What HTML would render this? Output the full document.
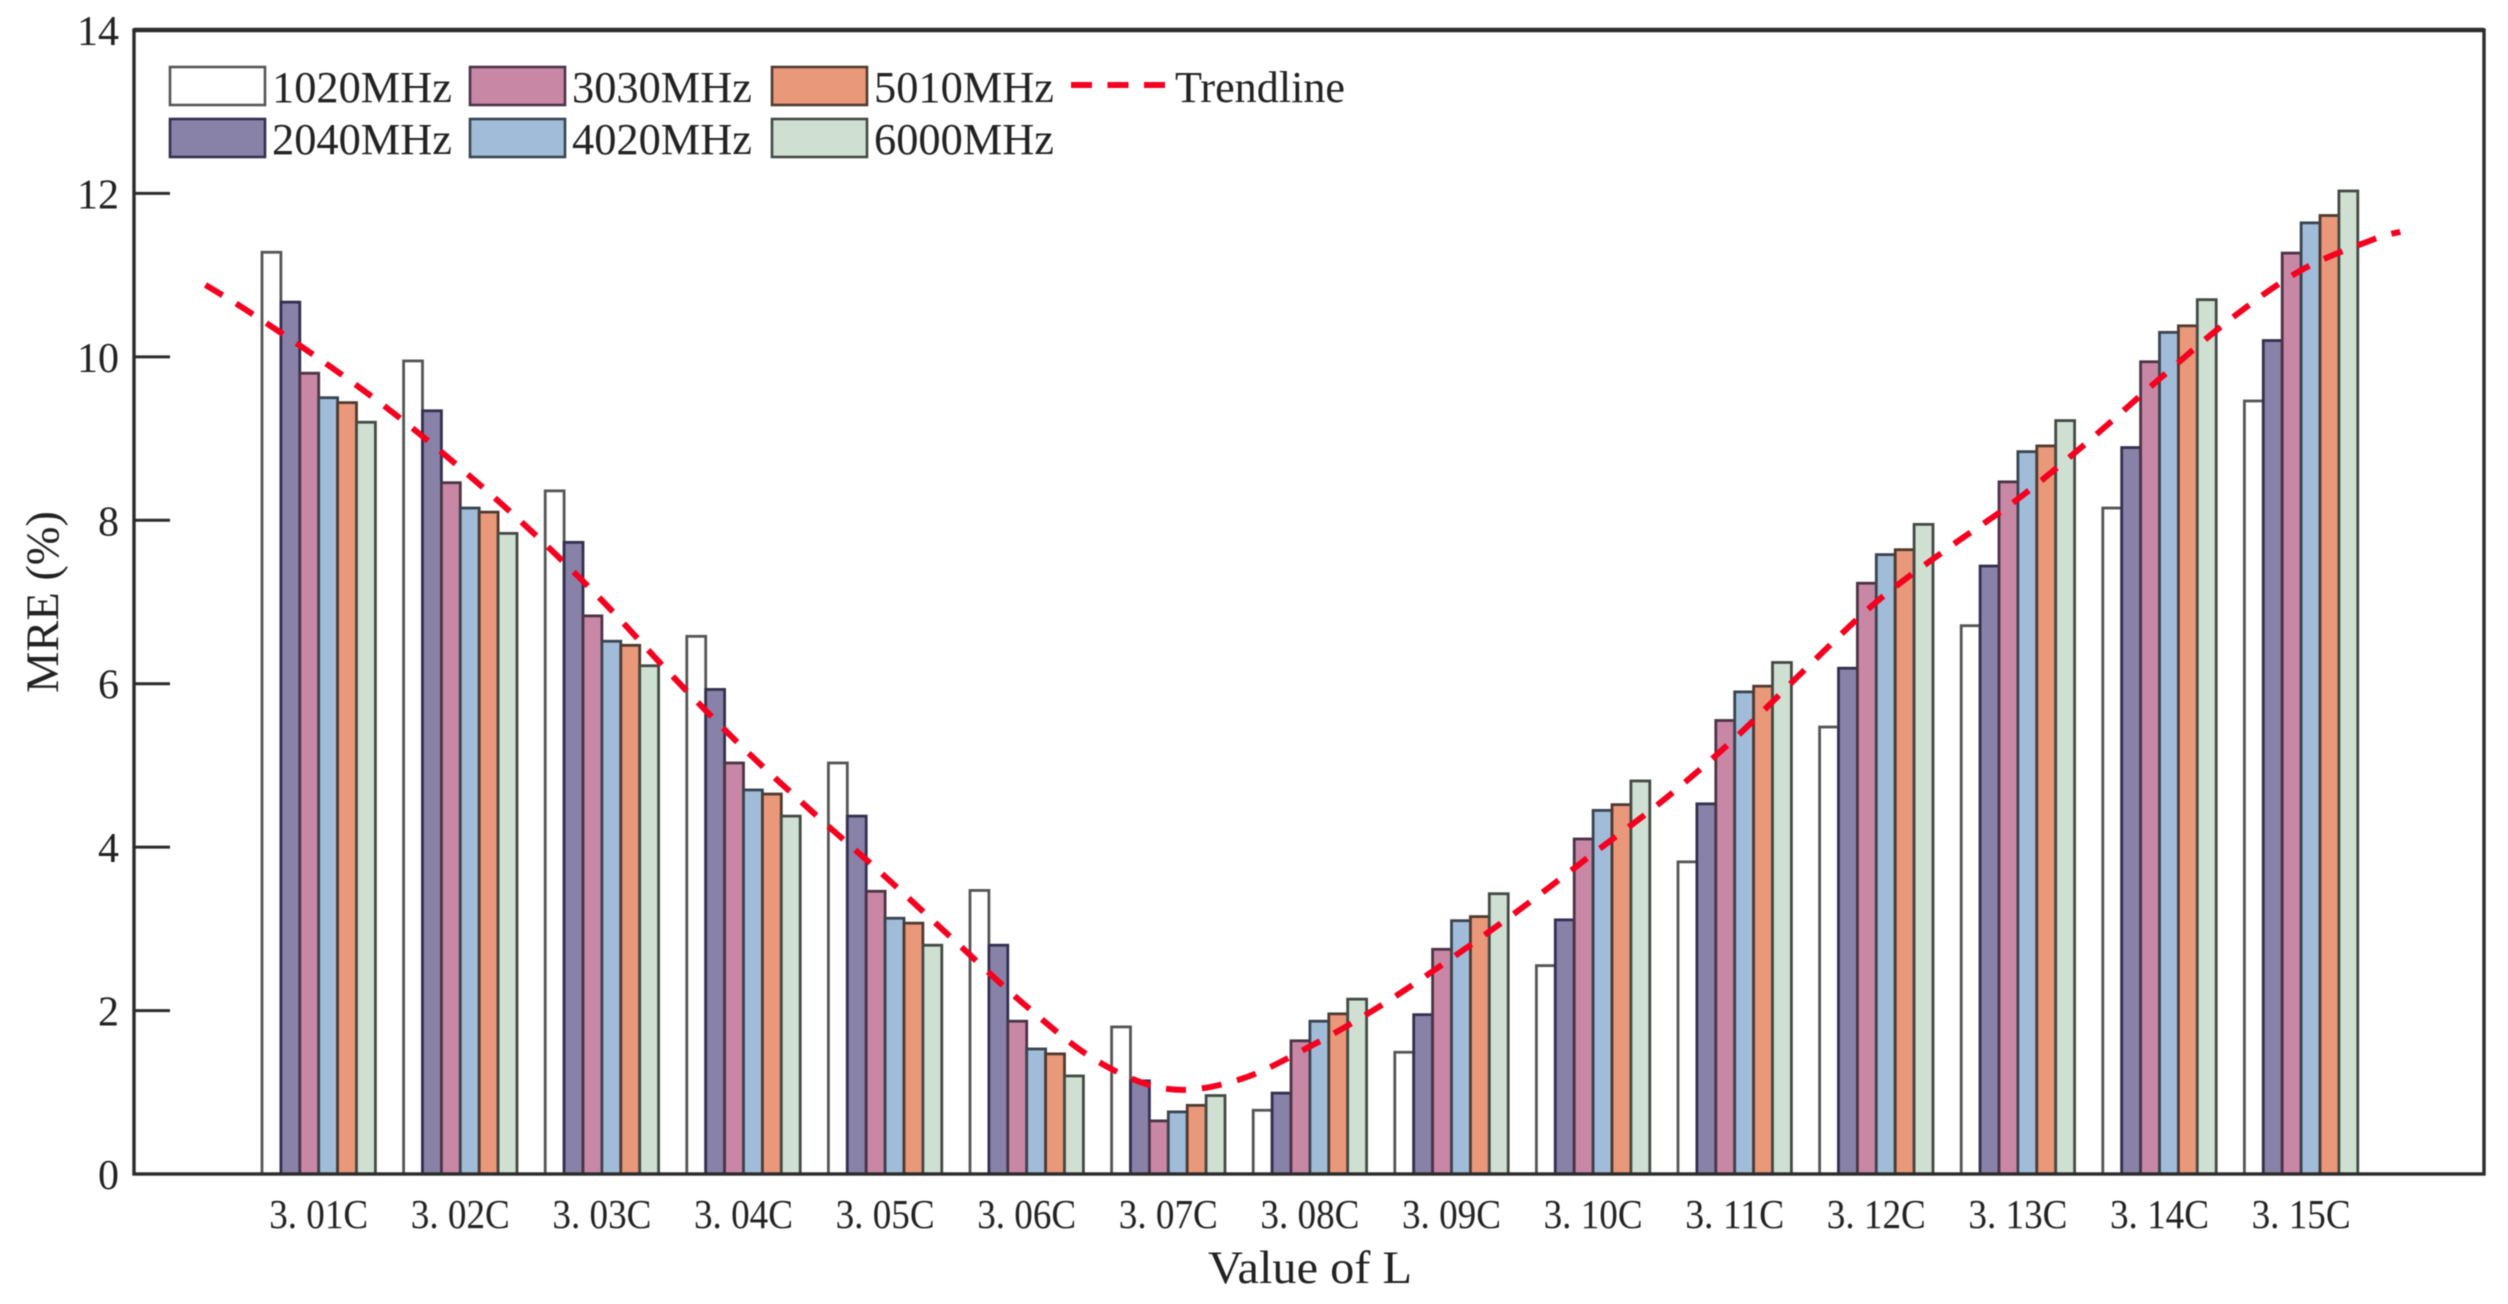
<!DOCTYPE html>
<html lang="en">
<head>
<meta charset="utf-8">
<title>MRE by Value of L</title>
<style>
html,body{margin:0;padding:0;background:#fff;}
svg{display:block;filter:blur(0.5px);}
text{font-family:"Liberation Serif","Noto Serif CJK SC",serif;fill:#222;}
</style>
</head>
<body>
<svg id="chart" xmlns="http://www.w3.org/2000/svg" width="2508" height="1304" viewBox="0 0 2508 1304">
  <rect x="0" y="0" width="2508" height="1304" fill="#fff"/>
  <g id="bars"></g>
  <g id="yticks"></g>
  <g id="xticks"></g>
  <rect x="134" y="30" width="2350" height="1144" fill="none" stroke="#2c2c2c" stroke-width="3.4"/>
  <line x1="134" x2="2484" y1="30" y2="30" stroke="#2c2c2c" stroke-width="4.4"/>
  <path id="trend" fill="none" stroke="#f5001e" stroke-width="6" stroke-dasharray="20 16"/>
  <text transform="translate(58,602) rotate(-90)" text-anchor="middle" font-size="47" textLength="182" lengthAdjust="spacingAndGlyphs">MRE (%)</text>
  <text x="1310" y="1283" text-anchor="middle" font-size="47" textLength="204" lengthAdjust="spacingAndGlyphs">Value of L</text>
  <g id="legend"></g>
</svg>
<script>
const categories = ["3. 01C","3. 02C","3. 03C","3. 04C","3. 05C","3. 06C","3. 07C","3. 08C","3. 09C","3. 10C","3. 11C","3. 12C","3. 13C","3. 14C","3. 15C"];
const seriesNames = ["1020MHz","2040MHz","3030MHz","4020MHz","5010MHz","6000MHz"];
const values1020 = [11.28,9.95,8.36,6.58,5.03,3.47,1.80,0.78,1.49,2.55,3.82,5.47,6.71,8.15,9.46];
const values2040 = [10.67,9.34,7.73,5.93,4.38,2.80,1.14,0.99,1.95,3.11,4.53,6.19,7.44,8.89,10.20];
const values3030 = [9.80,8.46,6.83,5.03,3.46,1.87,0.65,1.63,2.75,4.10,5.55,7.23,8.47,9.94,11.27];
const values4020 = [9.50,8.15,6.52,4.70,3.13,1.53,0.76,1.87,3.10,4.45,5.90,7.58,8.84,10.30,11.64];
const values5010 = [9.44,8.10,6.47,4.65,3.07,1.47,0.84,1.96,3.15,4.52,5.97,7.64,8.91,10.38,11.73];
const values6000 = [9.20,7.84,6.22,4.38,2.80,1.20,0.96,2.14,3.43,4.81,6.26,7.95,9.22,10.70,12.03];
const yTickValues = [0,2,4,6,8,10,12,14];
const trendPositions = [0.2,0.5,1,1.5,2,2.5,3,3.5,4,4.5,5,5.5,6,6.5,7,7.5,8,8.5,9,9.5,10,10.5,11,11.5,12,12.5,13,13.5,14,14.5,15,15.5,15.7];
const trendValues = [10.88,10.56,9.98,9.35,8.64,7.87,7.02,6.09,5.21,4.41,3.64,2.84,2.05,1.38,1.04,1.155,1.56,2.06,2.64,3.26,3.92,4.58,5.33,6.18,7.00,7.65,8.26,8.97,9.73,10.46,11.06,11.43,11.53];

const fills = ["#ffffff","#8882a9","#c987a6","#a0bcd8","#e9987a","#cfe0d3"];
const strokes = ["#555555","#33304f","#4a3445","#39444f","#4f3a30","#434a44"];
const allSeries = [values1020,values2040,values3030,values4020,values5010,values6000];
const seriesKeys = ["1020","2040","3030","4020","5010","6000"];

const NS = "http://www.w3.org/2000/svg";
const plot = {left:134,top:30,right:2484,bottom:1174};
const yMax = 14;
const groupPitch = 141.6, firstGroupCenter = 318.7, barWidth = 18.9;

function yScale(v){ return plot.bottom - (v / yMax) * (plot.bottom - plot.top); }
function xScale(pos){ return firstGroupCenter + (pos - 1) * groupPitch; }
function make(tag, attrs, parent){
  const el = document.createElementNS(NS, tag);
  for (const k in attrs) el.setAttribute(k, attrs[k]);
  parent.appendChild(el);
  return el;
}

const barsG = document.getElementById("bars");
allSeries.forEach(function(vals, s){
  vals.forEach(function(v, c){
    const x = xScale(c + 1) - 3 * barWidth + s * barWidth;
    const r = make("rect", {x:x, y:yScale(v), width:barWidth, height:yScale(0) - yScale(v), fill:fills[s], stroke:strokes[s], "stroke-width":2.8}, barsG);
    
    
  });
});

const yG = document.getElementById("yticks");
yTickValues.forEach(function(t){
  const l = make("line", {x1:plot.left, x2:plot.left + 36, y1:yScale(t), y2:yScale(t), stroke:"#2c2c2c", "stroke-width":3}, yG);
  
  
  const txt = make("text", {x:119, y:yScale(t) + 15, "text-anchor":"end", "font-size":42}, yG);
  txt.textContent = String(t);
  
  
});

const xG = document.getElementById("xticks");
categories.forEach(function(name, c){
  const txt = make("text", {x:xScale(c + 1), y:1228, "text-anchor":"middle", "font-size":41, textLength:99, lengthAdjust:"spacingAndGlyphs"}, xG);
  txt.textContent = name;
  
  
});

function smoothPath(px, py){
  let d = "M" + px[0] + " " + py[0];
  for (let i = 0; i < px.length - 1; i++){
    const i0 = Math.max(0, i - 1), i3 = Math.min(px.length - 1, i + 2);
    const c1x = px[i] + (px[i + 1] - px[i0]) / 6, c1y = py[i] + (py[i + 1] - py[i0]) / 6;
    const c2x = px[i + 1] - (px[i3] - px[i]) / 6, c2y = py[i + 1] - (py[i3] - py[i]) / 6;
    d += " C" + c1x + " " + c1y + " " + c2x + " " + c2y + " " + px[i + 1] + " " + py[i + 1];
  }
  return d;
}
document.getElementById("trend").setAttribute("d", smoothPath(trendPositions.map(xScale), trendValues.map(yScale)));

const legendG = document.getElementById("legend");
const legendCols = [170, 470, 772];
const legendRows = [67, 119];
seriesNames.forEach(function(name, s){
  const col = Math.floor(s / 2), row = s % 2;
  const sw = make("rect", {x:legendCols[col], y:legendRows[row], width:95, height:38, fill:fills[s], stroke:strokes[s], "stroke-width":2.6}, legendG);
  
  
  const txt = make("text", {x:legendCols[col] + 102, y:legendRows[row] + 35, "font-size":44, textLength:180, lengthAdjust:"spacingAndGlyphs"}, legendG);
  txt.textContent = name;
  
  
});
const legLine = make("line", {x1:1071, x2:1165, y1:85, y2:85, stroke:"#f5001e", "stroke-width":6, "stroke-dasharray":"21 15.5"}, legendG);


const legTxt = make("text", {x:1175, y:102, "font-size":44, textLength:170, lengthAdjust:"spacingAndGlyphs"}, legendG);
legTxt.textContent = "Trendline";


</script>
</body>
</html>
